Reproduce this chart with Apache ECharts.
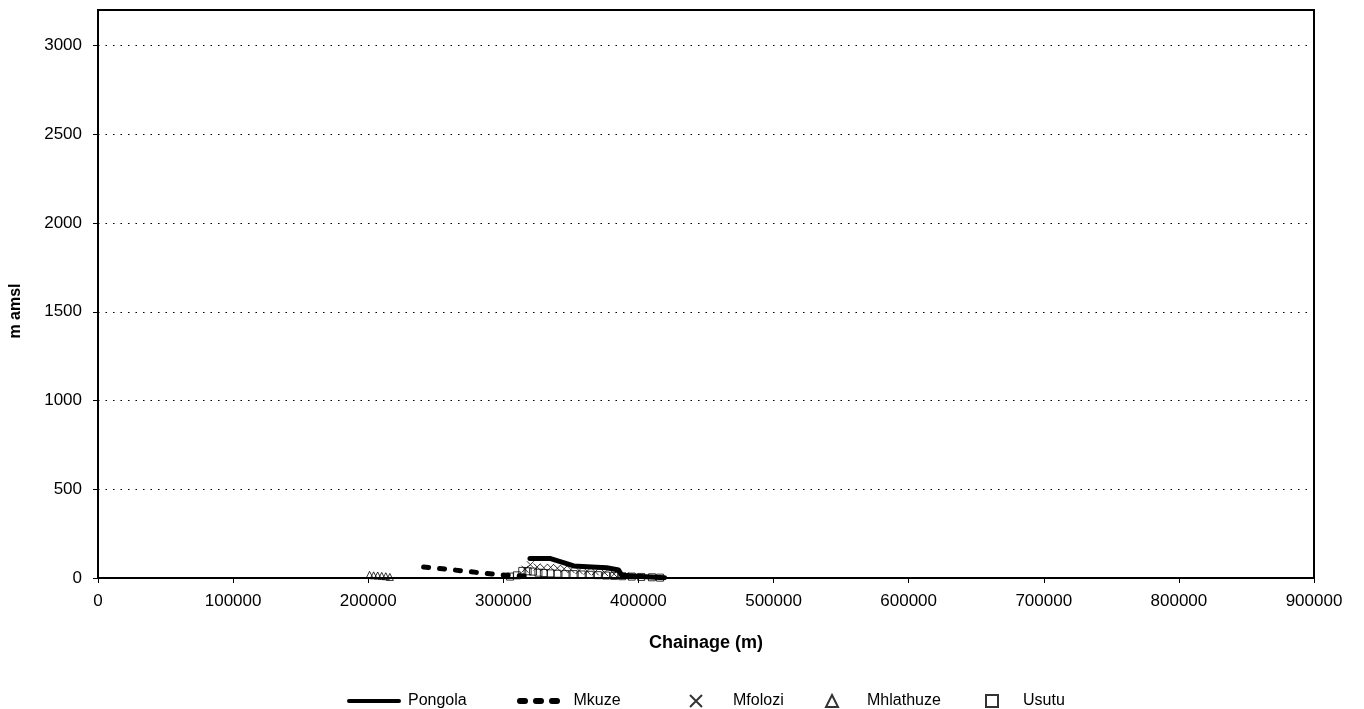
<!DOCTYPE html>
<html>
<head>
<meta charset="utf-8">
<script src="https://cdn.jsdelivr.net/npm/echarts@6/dist/echarts.min.js"></script>
<style>
  html, body { margin: 0; padding: 0; background: #fff; }
  #chart { width: 1364px; height: 709px; }
</style>
</head>
<body>
<div id="chart"></div>
<script>
// River long-sections: elevation (m amsl) against chainage (m)
const yTicks = [0, 500, 1000, 1500, 2000, 2500, 3000];

const pongolaX = [319700, 334400, 343300, 352100, 365400, 376500, 385300, 387600, 402300, 419300];
const pongolaY = [110, 110, 90, 68, 62, 58, 45, 15, 8, 2];

const mkuzeX = [241000, 255000, 270000, 282000, 292000, 302000, 312000, 322000];
const mkuzeY = [62, 52, 40, 30, 22, 16, 12, 8];

const mfoloziX = [316000, 320000, 325000, 330000, 335000, 340000, 345000, 350000, 356000, 362000, 368000, 375000, 382000, 390000];
const mfoloziY = [50, 75, 62, 58, 60, 55, 52, 48, 42, 38, 35, 30, 22, 12];

const mhlathuzeX = [201000, 204000, 207000, 210000, 213000, 216000];
const mhlathuzeY = [18, 15, 14, 12, 10, 6];

const usutuX = [305000, 310000, 314000, 318000, 322000, 326000, 330000, 335000, 340000, 346000, 352000, 358000, 364000, 370000, 376000, 382000, 388000, 395000, 402000, 410000, 416000];
const usutuY = [8, 15, 40, 38, 36, 30, 28, 26, 24, 22, 22, 20, 18, 16, 14, 12, 10, 8, 6, 4, 2];

const pair = (xs, ys) => xs.map((x, i) => [x, ys[i]]);

const FONT = 'Liberation Sans, Arial, sans-serif';
const crossPath = 'path://M0,0L10,10M10,0L0,10';
const hollow = { color: 'transparent', borderColor: '#000', borderWidth: 1 };
// legend icons: a thick bar for the solid line, three blobs for the dashed one
const solidIcon = 'path://M2,0H54A2,2 0 0 1 54,4H2A2,2 0 0 1 2,0Z';
const dashIcon = 'path://M3,0h5a3,3 0 0 1 0,6h-5a3,3 0 0 1 0,-6z M19,0h5a3,3 0 0 1 0,6h-5a3,3 0 0 1 0,-6z M35,0h5a3,3 0 0 1 0,6h-5a3,3 0 0 1 0,-6z';

function legendAt(item, left, opts, textPad) {
  return Object.assign({
    data: [item],
    left: left,
    top: 688,
    itemGap: 0,
    textStyle: { fontFamily: FONT, fontSize: 16, color: '#000', padding: [0, 0, 0, textPad] },
    selectedMode: false
  }, opts || {});
}

const chart = echarts.init(document.getElementById('chart'));
chart.setOption({
  animation: false,
  backgroundColor: '#fff',
  textStyle: { fontFamily: FONT },
  grid: {
    left: 95, right: 50, top: 10, bottom: 131,
    show: true, borderColor: '#000', borderWidth: 2, backgroundColor: 'transparent'
  },
  xAxis: {
    type: 'value',
    min: 0, max: 900000, interval: 100000,
    name: 'Chainage (m)',
    nameLocation: 'middle',
    nameGap: 56,
    nameTextStyle: { fontFamily: FONT, fontSize: 18, fontWeight: 'bold', color: '#000' },
    axisLine: { show: true, onZero: false, lineStyle: { color: '#000', width: 2 } },
    axisTick: { show: true, inside: false, length: 5, lineStyle: { color: '#000', width: 1 } },
    axisLabel: { fontFamily: FONT, fontSize: 17, color: '#000', margin: 15, formatter: v => String(v) },
    splitLine: { show: false }
  },
  yAxis: {
    type: 'value',
    min: 0, max: 3200, interval: 500,
    name: 'm amsl',
    nameLocation: 'middle',
    nameGap: 74,
    nameTextStyle: { fontFamily: FONT, fontSize: 16, fontWeight: 'bold', color: '#000', padding: [0, 34, 0, 0] },
    axisLine: { show: true, lineStyle: { color: '#000', width: 2 } },
    axisTick: { show: true, inside: false, length: 5, lineStyle: { color: '#000', width: 1 } },
    axisLabel: {
      fontFamily: FONT, fontSize: 17, color: '#000', margin: 16,
      showMaxLabel: false,
      formatter: v => (yTicks.indexOf(v) >= 0 ? String(v) : '')
    },
    splitLine: { show: true, lineStyle: { color: '#000', width: 1.2, type: [1.5, 6] } }
  },
  legend: [
    legendAt({ name: 'Pongola', icon: solidIcon }, 342, { itemWidth: 54, itemHeight: 4 }, 2),
    legendAt({ name: 'Mkuze', icon: dashIcon }, 512, { itemWidth: 46, itemHeight: 6 }, 7),
    legendAt('Mfolozi', 684, { itemWidth: 12, itemHeight: 12 }, 26),
    legendAt('Mhlathuze', 820, { itemWidth: 12, itemHeight: 12 }, 24),
    legendAt('Usutu', 980, { itemWidth: 12, itemHeight: 12 }, 20)
  ],
  series: [
    {
      name: 'Pongola', type: 'line', data: pair(pongolaX, pongolaY),
      symbol: 'none', lineStyle: { color: '#000', width: 5, cap: 'round', join: 'round' },
      itemStyle: { color: '#000' }
    },
    {
      name: 'Mkuze', type: 'line', data: pair(mkuzeX, mkuzeY),
      symbol: 'none', lineStyle: { color: '#000', width: 5, type: [5, 11], cap: 'round' },
      itemStyle: { color: '#000' }
    },
    {
      name: 'Mfolozi', type: 'scatter', data: pair(mfoloziX, mfoloziY),
      symbol: crossPath, symbolSize: 7, itemStyle: hollow
    },
    {
      name: 'Mhlathuze', type: 'scatter', data: pair(mhlathuzeX, mhlathuzeY),
      symbol: 'triangle', symbolSize: 7, itemStyle: hollow
    },
    {
      name: 'Usutu', type: 'scatter', data: pair(usutuX, usutuY),
      symbol: 'rect', symbolSize: 7, itemStyle: hollow
    }
  ]
});
</script>
</body>
</html>
